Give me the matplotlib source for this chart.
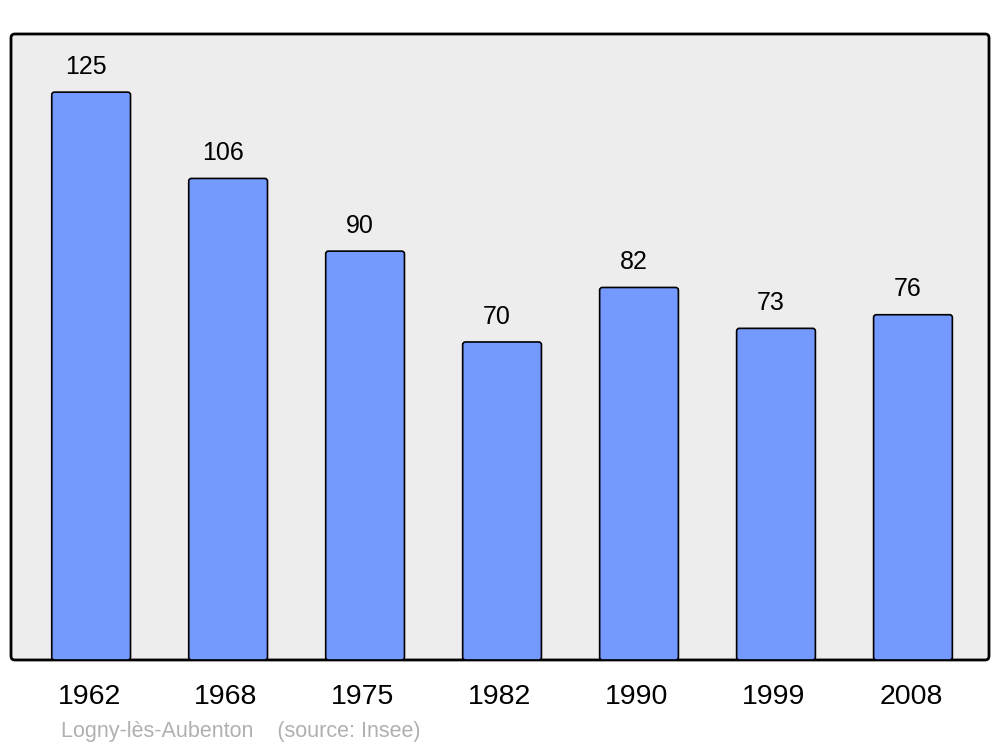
import matplotlib
matplotlib.use("Agg")
import matplotlib.pyplot as plt
import matplotlib.transforms as mtransforms
from matplotlib.patches import FancyBboxPatch

years = ["1962", "1968", "1975", "1982", "1990", "1999", "2008"]
population = [125, 106, 90, 70, 82, 73, 76]
footer = "Logny-lès-Aubenton    (source: Insee)"

plt.rcParams['font.family'] = ['Liberation Sans', 'DejaVu Sans']

fig = plt.figure(figsize=(10, 7.47), dpi=100)
ax = fig.add_axes([0.011, 0.1165, 0.978, 0.838])
ax.set_facecolor('none')
for s in ax.spines.values():
    s.set_visible(False)

# rounded frame
frame = FancyBboxPatch((0, 0), 1, 1, boxstyle="round,pad=0,rounding_size=0.004",
                       mutation_aspect=978 / 626, transform=ax.transAxes,
                       facecolor='#ededed', edgecolor='black', linewidth=2.0,
                       clip_on=False, zorder=0)
ax.add_patch(frame)

x = list(range(len(years)))
bars = ax.bar(x, population, width=0.575, color='#7499ff', edgecolor='black')
for b in bars:
    b.set_visible(False)
    p = FancyBboxPatch((b.get_x(), b.get_y()), b.get_width(), b.get_height(),
                       boxstyle="round,pad=0,rounding_size=0.02", mutation_aspect=30,
                       facecolor='#7499ff', edgecolor='black', linewidth=1.2, zorder=2)
    ax.add_patch(p)
    ax.annotate(f"{int(b.get_height())}", (b.get_x() + b.get_width() / 2, b.get_height()),
                xytext=(-4.0, 18.3), textcoords='offset points', ha='center', va='center',
                fontsize=18, color='black')

ax.set_xlim(-0.585, 6.555)
ax.set_ylim(0, 137.8)
ax.set_yticks([])
ax.set_xticks(x)
ax.set_xticklabels(years, fontsize=20.5)
ax.tick_params(axis='x', length=0, pad=17)
shift = mtransforms.ScaledTranslation(-1.5 / 72, 0, fig.dpi_scale_trans)
for lbl in ax.get_xticklabels():
    lbl.set_transform(lbl.get_transform() + shift)

fig.text(0.061, 0.021, footer, fontsize=15.5, color='#b0b0b0', ha='left', va='center')

fig.savefig("out.png", dpi=100)
